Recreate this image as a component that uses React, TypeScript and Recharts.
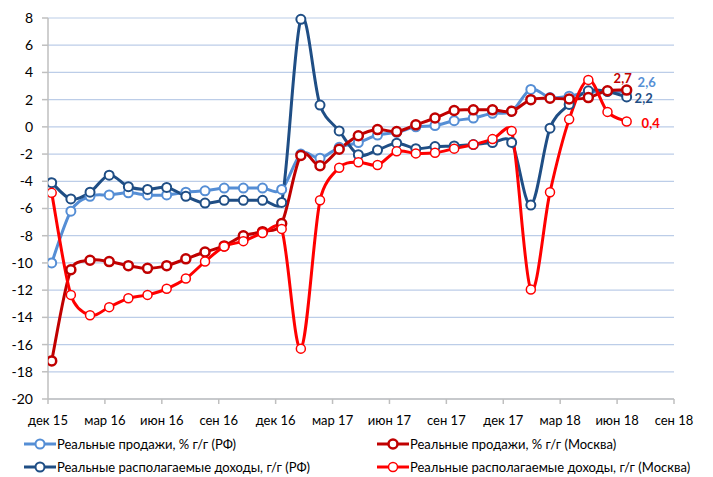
import React from 'react';
import { LineChart, Line, XAxis, YAxis, CartesianGrid } from 'recharts';

const periods = [
  'дек 15', 'янв 16', 'фев 16', 'мар 16', 'апр 16', 'май 16', 'июн 16', 'июл 16', 'авг 16', 'сен 16', 'окт 16', 'ноя 16',
  'дек 16', 'янв 17', 'фев 17', 'мар 17', 'апр 17', 'май 17', 'июн 17', 'июл 17', 'авг 17', 'сен 17', 'окт 17', 'ноя 17',
  'дек 17', 'янв 18', 'фев 18', 'мар 18', 'апр 18', 'май 18', 'июн 18',
];

const salesRF = [-10.0, -6.2, -5.1, -5.0, -4.85, -5.0, -5.0, -4.8, -4.7, -4.5, -4.5, -4.5, -4.6, -2.0, -2.3, -1.5, -1.15, -0.6, -0.4, 0.0, 0.1, 0.45, 0.65, 1.0, 1.15, 2.75, 2.15, 2.25, 2.55, 2.6, 2.6];
const salesMoscow = [-17.2, -10.5, -9.8, -9.9, -10.2, -10.4, -10.2, -9.7, -9.2, -8.75, -8.0, -7.7, -7.1, -2.1, -2.85, -1.65, -0.65, -0.2, -0.35, 0.15, 0.65, 1.2, 1.25, 1.25, 1.15, 2.0, 2.1, 2.05, 2.15, 2.65, 2.7];
const incomeRF = [-4.1, -5.3, -4.8, -3.55, -4.4, -4.6, -4.45, -5.1, -5.6, -5.4, -5.4, -5.4, -5.55, 7.9, 1.6, -0.3, -2.05, -1.7, -1.2, -1.6, -1.45, -1.4, -1.3, -1.15, -1.15, -5.75, -0.1, 1.65, 2.65, 2.6, 2.2];
const incomeMoscow = [-4.85, -12.35, -13.85, -13.25, -12.6, -12.35, -11.9, -11.15, -9.9, -8.8, -8.4, -7.8, -7.5, -16.3, -5.4, -3.0, -2.6, -2.8, -1.8, -1.95, -1.9, -1.6, -1.3, -0.9, -0.3, -11.95, -4.8, 0.55, 3.45, 1.1, 0.4];

const tickLabels = ['дек 15', 'мар 16', 'июн 16', 'сен 16', 'дек 16', 'мар 17', 'июн 17', 'сен 17', 'дек 17', 'мар 18', 'июн 18', 'сен 18'];
const yTicks = [-20, -18, -16, -14, -12, -10, -8, -6, -4, -2, 0, 2, 4, 6, 8];

const seriesNames = [
  'Реальные продажи, % г/г (РФ)',
  'Реальные продажи, % г/г (Москва)',
  'Реальные располагаемые доходы, г/г (РФ)',
  'Реальные располагаемые доходы, г/г (Москва)',
];

const data = periods.map((p, i) => ({
  i,
  period: p,
  salesRF: salesRF[i],
  salesMoscow: salesMoscow[i],
  incomeRF: incomeRF[i],
  incomeMoscow: incomeMoscow[i],
}));

const C_LB = '#558ED5';
const C_DR = '#C00000';
const C_DB = '#1F4E85';
const C_R = '#FF0000';
const FONT = 'Lato, "Open Sans", sans-serif';

// Excel-like smoothed line (Catmull-Rom via cubic Bezier, control length capped)
const excelSmooth: any = (context: any) => {
  let pts: number[][] = [];
  const cap = (vx: number, vy: number, L: number) => {
    const m = Math.hypot(vx, vy);
    const lim = L * 0.5;
    if (m > lim && m > 0) return [(vx * lim) / m, (vy * lim) / m];
    return [vx, vy];
  };
  return {
    areaStart() {},
    areaEnd() {},
    lineStart() {
      pts = [];
    },
    point(x: number, y: number) {
      pts.push([+x, +y]);
    },
    lineEnd() {
      const n = pts.length;
      if (!n) return;
      context.moveTo(pts[0][0], pts[0][1]);
      for (let k = 0; k < n - 1; k++) {
        const p0 = pts[k - 1] || pts[k];
        const p1 = pts[k];
        const p2 = pts[k + 1];
        const p3 = pts[k + 2] || pts[k + 1];
        const L = Math.hypot(p2[0] - p1[0], p2[1] - p1[1]);
        const t1 = cap((p2[0] - p0[0]) / 6, (p2[1] - p0[1]) / 6, L);
        const t2 = cap((p3[0] - p1[0]) / 6, (p3[1] - p1[1]) / 6, L);
        context.bezierCurveTo(
          p1[0] + t1[0],
          p1[1] + t1[1],
          p2[0] - t2[0],
          p2[1] - t2[1],
          p2[0],
          p2[1],
        );
      }
    },
  };
};

const lastIndex = periods.length - 1;

const makeLabel = (color: string, dx: number, dy: number) => (props: any) => {
  const { x, y, value, index } = props;
  if (index !== lastIndex) return null;
  return (
    <text
      x={x + dx}
      y={y + dy}
      fill={color}
      fontFamily={FONT}
      fontWeight={700}
      fontSize={13}
      textAnchor="middle"
      dominantBaseline="central"
    >
      {String(value.toFixed(1)).replace('.', ',')}
    </text>
  );
};

const LegendIcon = ({ color, sw }: { color: string; sw: number }) => (
  <svg width={32} height={14} style={{ display: 'block' }}>
    <line x1={0} y1={7} x2={32} y2={7} stroke={color} strokeWidth={3} />
    <circle cx={16} cy={7} r={4.5} fill="#fff" stroke={color} strokeWidth={sw} />
  </svg>
);

const legendItems = [
  { name: seriesNames[0], color: C_LB, sw: 2, left: 16, top: 428 },
  { name: seriesNames[1], color: C_DR, sw: 2.5, left: 369, top: 428 },
  { name: seriesNames[2], color: C_DB, sw: 2, left: 16, top: 451 },
  { name: seriesNames[3], color: C_R, sw: 1.5, left: 369, top: 451 },
];

export default function App() {
  return (
    <div style={{ position: 'relative', width: 705, height: 469, fontFamily: FONT }}>
      <LineChart
        width={705}
        height={425}
        data={data}
        margin={{ top: 10, right: 39, left: 0, bottom: 0 }}
      >
        <CartesianGrid
          xAxisId="lab"
          yAxisId="y"
          vertical={false}
          stroke="#BCCDE8"
          strokeWidth={1.2}
        />
        <XAxis
          xAxisId="lab"
          dataKey="i"
          type="number"
          domain={[0, 33]}
          allowDataOverflow
          ticks={[0, 3, 6, 9, 12, 15, 18, 21, 24, 27, 30, 33]}
          tickFormatter={(v: number) => tickLabels[Math.round(v / 3)]}
          interval={0}
          height={34}
          stroke="#BFBFBF"
          strokeWidth={1.5}
          tickSize={5}
          tickMargin={12}
          tick={{ fill: '#000', fontSize: 13, fontFamily: FONT }}
        />
        <XAxis
          xAxisId="data"
          dataKey="i"
          type="number"
          domain={[-0.193, 32.47]}
          allowDataOverflow
          height={0}
          hide
        />
        <YAxis
          yAxisId="y"
          type="number"
          domain={[-20, 8]}
          ticks={yTicks}
          interval={0}
          width={40}
          stroke="#BFBFBF"
          strokeWidth={1.5}
          tickSize={6}
          tickMargin={9}
          tick={{ fill: '#000', fontSize: 14, fontFamily: FONT }}
        />
        <Line
          xAxisId="data"
          yAxisId="y"
          dataKey="salesRF"
          type={excelSmooth}
          stroke={C_LB}
          strokeWidth={3}
          dot={{ r: 4.5, fill: '#fff', stroke: C_LB, strokeWidth: 2 }}
          activeDot={false}
          isAnimationActive={false}
          label={makeLabel(C_LB, 20, -9)}
        />
        <Line
          xAxisId="data"
          yAxisId="y"
          dataKey="incomeRF"
          type={excelSmooth}
          stroke={C_DB}
          strokeWidth={3}
          dot={{ r: 4.5, fill: '#fff', stroke: C_DB, strokeWidth: 2 }}
          activeDot={false}
          isAnimationActive={false}
          label={makeLabel(C_DB, 17, 1.5)}
        />
        <Line
          xAxisId="data"
          yAxisId="y"
          dataKey="salesMoscow"
          type={excelSmooth}
          stroke={C_DR}
          strokeWidth={3}
          dot={{ r: 4.5, fill: '#fff', stroke: C_DR, strokeWidth: 2.5 }}
          activeDot={false}
          isAnimationActive={false}
          label={makeLabel(C_DR, -4, -12.5)}
        />
        <Line
          xAxisId="data"
          yAxisId="y"
          dataKey="incomeMoscow"
          type={excelSmooth}
          stroke={C_R}
          strokeWidth={3}
          dot={{ r: 4.5, fill: '#fff', stroke: C_R, strokeWidth: 1.5 }}
          activeDot={false}
          isAnimationActive={false}
          label={makeLabel(C_R, 24, 2)}
        />
      </LineChart>
      {legendItems.map((it) => (
        <div
          key={it.name}
          style={{
            position: 'absolute',
            left: it.left,
            top: it.top,
            display: 'flex',
            alignItems: 'center',
            height: 16,
            fontSize: 13,
            color: '#000',
            whiteSpace: 'nowrap',
          }}
        >
          <LegendIcon color={it.color} sw={it.sw} />
          <span style={{ marginLeft: 1 }}>{it.name}</span>
        </div>
      ))}
    </div>
  );
}
